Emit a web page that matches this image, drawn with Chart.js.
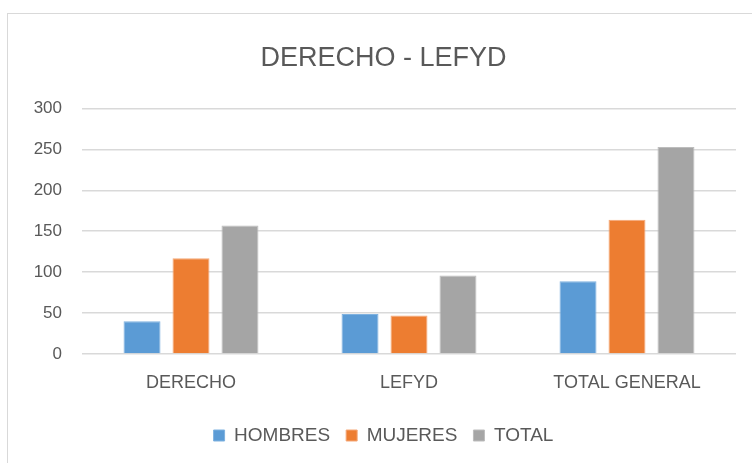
<!DOCTYPE html>
<html>
<head>
<meta charset="utf-8">
<script src="https://cdn.jsdelivr.net/npm/chart.js@4"></script>
<style>
    html, body { margin: 0; padding: 0; background: #fff; overflow: hidden; }
    #frame {
        position: absolute;
        left: 7px; top: 13px;
        width: 770px; height: 470px;
        border: 1px solid #d9d9d9;
        box-sizing: border-box;
    }
    #wrap { position: absolute; left: 7px; top: 13px; width: 760px; height: 450px; }
</style>
</head>
<body>
<div id="frame"></div>
<div id="wrap"><canvas id="chart"></canvas></div>
<script>
// chart values
const categories = ['DERECHO', 'LEFYD', 'TOTAL GENERAL'];
const hombres = [40, 49, 89];
const mujeres = [117, 47, 164];
const total = [157, 96, 253];
const seriesNames = ['HOMBRES', 'MUJERES', 'TOTAL'];

const textColor = '#595959';
const fontFamily = '"Liberation Sans", Arial, sans-serif';

const ctx = document.getElementById('chart').getContext('2d');
const chart = new Chart(ctx, {
    type: 'bar',
    data: {
        labels: categories,
        datasets: [{
            label: seriesNames[0],
            data: hombres,
            backgroundColor: '#5b9bd5',
            borderColor: '#7fb2e0',
            borderWidth: 1
        }, {
            label: seriesNames[1],
            data: mujeres,
            backgroundColor: '#ed7d31',
            borderColor: '#f5a878',
            borderWidth: 1
        }, {
            label: seriesNames[2],
            data: total,
            backgroundColor: '#a5a5a5',
            borderColor: '#bdbdbd',
            borderWidth: 1
        }]
    },
    options: {
        responsive: true,
        maintainAspectRatio: false,
        animation: false,
        categoryPercentage: 0.674,
        barPercentage: 0.755,
        layout: { padding: { left: 24, right: 31, top: 0, bottom: 8 } },
        plugins: {
            title: {
                display: true,
                text: 'DERECHO - LEFYD',
                color: textColor,
                font: { family: fontFamily, size: 27, weight: 'normal' },
                padding: { top: 29, bottom: 34 }
            },
            legend: {
                position: 'bottom',
                labels: {
                    color: textColor,
                    font: { family: fontFamily, size: 19 },
                    boxWidth: 11,
                    boxHeight: 11,
                    padding: 16
                }
            },
            tooltip: { enabled: false }
        },
        scales: {
            x: {
                grid: { display: false },
                border: { display: false },
                ticks: {
                    color: textColor,
                    font: { family: fontFamily, size: 18 },
                    padding: 10
                },
                afterFit: function(scale) { scale.height = 56; }
            },
            y: {
                min: 0,
                max: 300,
                ticks: {
                    stepSize: 50,
                    color: textColor,
                    font: { family: fontFamily, size: 17 },
                    padding: 20
                },
                grid: { color: '#d9d9d9', lineWidth: 1.5, drawTicks: false },
                border: { display: false },
                afterFit: function(scale) { scale.width = 51; }
            }
        }
    }
});
</script>
</body>
</html>
